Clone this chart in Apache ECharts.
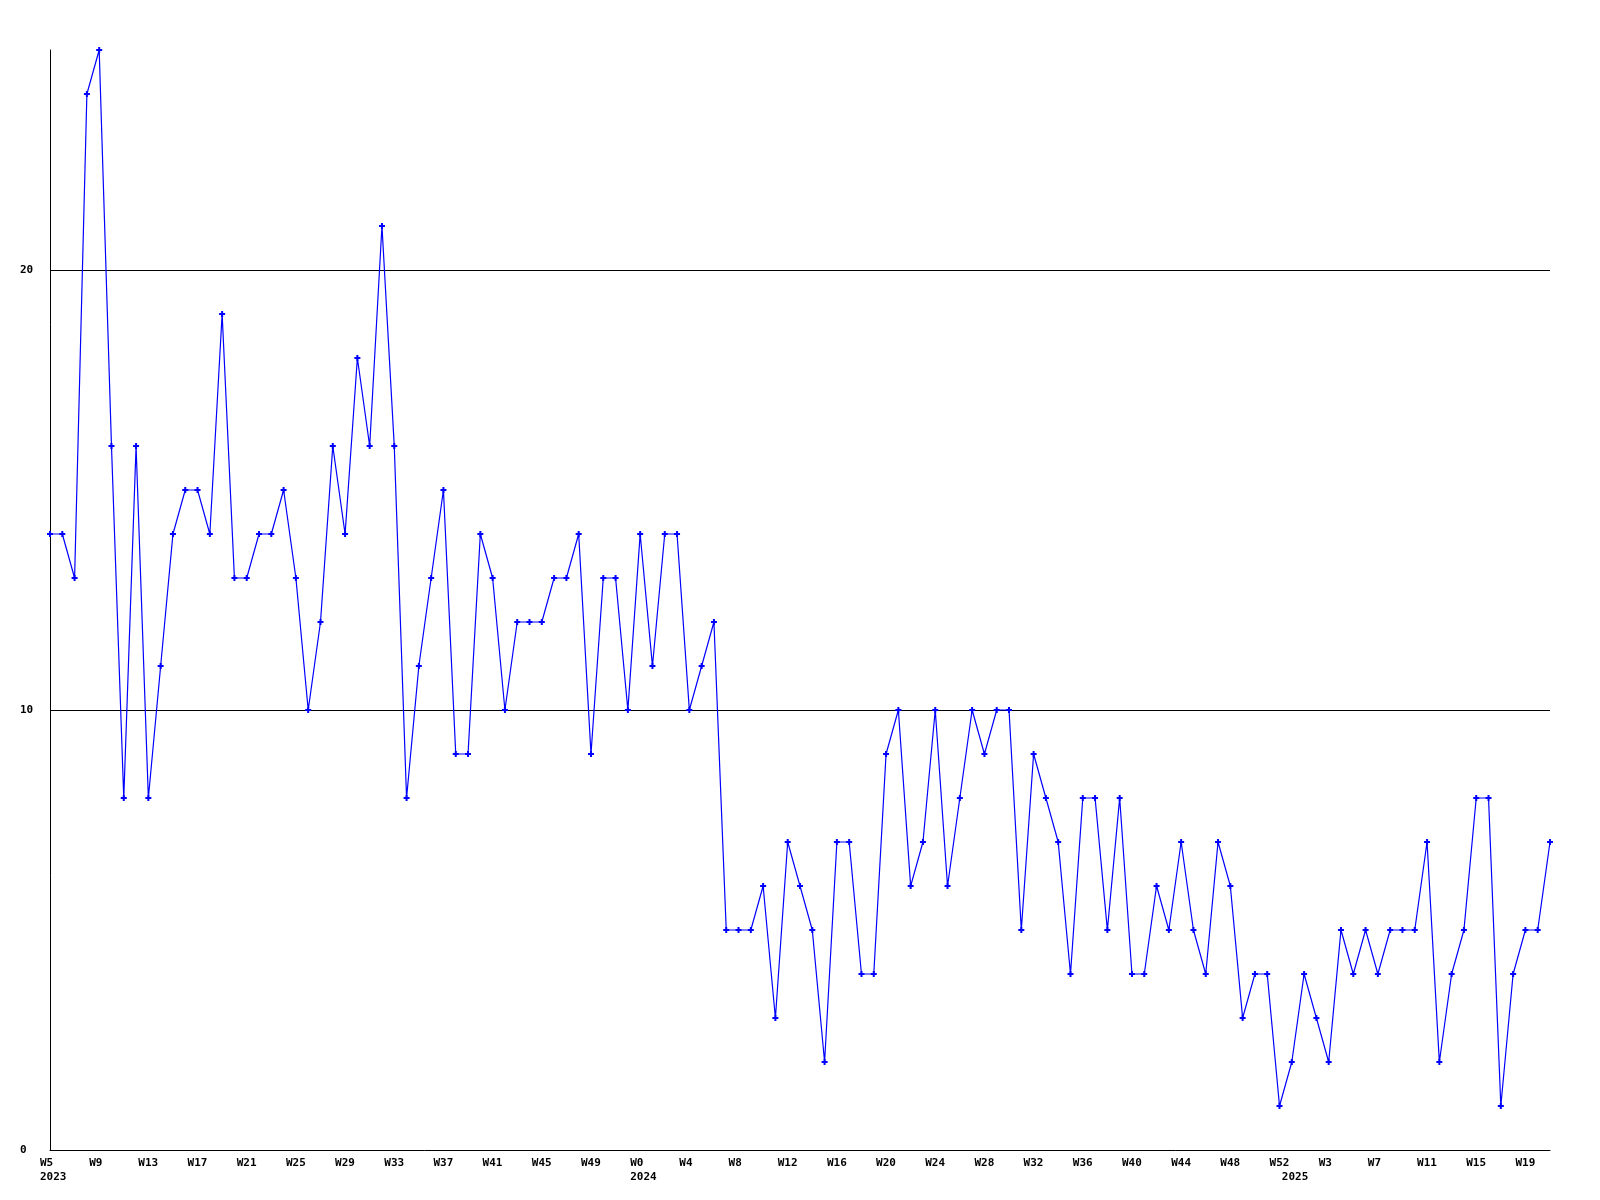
<!DOCTYPE html>
<html>
<head>
<meta charset="utf-8">
<script src="https://cdn.jsdelivr.net/npm/echarts@6/dist/echarts.min.js"></script>
<style>
html,body{margin:0;padding:0;background:#fff;}
#chart{width:1600px;height:1200px;}
</style>
</head>
<body>
<div id="chart"></div>
<script>
// Week categories (year-week)
const weeks2023 = [5,6,7,8,9,10,11,12,13,14,15,16,17,18,19,20,21,22,23,24,25,26,27,28,29,30,31,32,33,34,35,36,37,38,39,40,41,42,43,44,45,46,47,48,49,50,51,52];
const weeks2024 = [0,1,2,3,4,5,6,7,8,9,10,11,12,13,14,15,16,17,18,19,20,21,22,23,24,25,26,27,28,29,30,31,32,33,34,35,36,37,38,39,40,41,42,43,44,45,46,47,48,49,50,51,52];
const weeks2025 = [0,1,2,3,4,5,6,7,8,9,10,11,12,13,14,15,16,17,18,19,20,21];

// Series values
const values2023 = [14,14,13,24,25,16,8,16,8,11,14,15,15,14,19,13,13,14,14,15,13,10,12,16,14,18,16,21,16,8,11,13,15,9,9,14,13,10,12,12,12,13,13,14,9,13,13,10];
const values2024 = [14,11,14,14,10,11,12,5,5,5,6,3,7,6,5,2,7,7,4,4,9,10,6,7,10,6,8,10,9,10,10,5,9,8,7,4,8,8,5,8,4,4,6,5,7,5,4,7,6,3,4,4,1];
const values2025 = [2,4,3,2,5,4,5,4,5,5,5,7,2,4,5,8,8,1,4,5,5,7];

// Y tick labels
const yTicks = [0, 10, 20];

const categories = [];
weeks2023.forEach(w => categories.push('2023-W' + w));
weeks2024.forEach(w => categories.push('2024-W' + w));
weeks2025.forEach(w => categories.push('2025-W' + w));
const values = values2023.concat(values2024, values2025);

function isYearStart(i) {
  if (i === 0) return true;
  return categories[i].split('-W')[0] !== categories[i - 1].split('-W')[0];
}

const chart = echarts.init(document.getElementById('chart'), null, {renderer: 'canvas'});
const font = 'DejaVu Sans Mono';
chart.setOption({
  animation: false,
  backgroundColor: '#ffffff',
  grid: {left: 50, right: 50, top: 50, bottom: 50, containLabel: false},
  xAxis: {
    type: 'category',
    boundaryGap: false,
    data: categories,
    axisLine: {show: true, lineStyle: {color: '#000', width: 1}},
    axisTick: {show: false},
    splitLine: {show: false},
    axisLabel: {
      interval: function (i) { return i % 4 === 0 || isYearStart(i); },
      formatter: function (v, i) {
        const parts = v.split('-W');
        const wk = (i % 4 === 0) ? 'W' + parts[1] : '';
        return isYearStart(i) ? wk + '\n' + parts[0] : wk;
      },
      align: 'left',
      verticalAlign: 'top',
      padding: [0, 0, 0, -10],
      margin: 6,
      lineHeight: 14,
      fontFamily: font,
      fontWeight: 'bold',
      fontSize: 11,
      color: '#000'
    }
  },
  yAxis: {
    type: 'value',
    min: 0,
    max: 25,
    interval: 10,
    axisLine: {show: true, lineStyle: {color: '#000', width: 1}},
    axisTick: {show: false},
    splitLine: {show: true, showMinLine: false, showMaxLine: false, lineStyle: {color: '#000', width: 1}},
    axisLabel: {
      showMaxLabel: false,
      formatter: function (v) { return yTicks.indexOf(v) >= 0 ? String(v) : ''; },
      align: 'left',
      margin: 30,
      fontFamily: font,
      fontWeight: 'bold',
      fontSize: 11,
      color: '#000'
    }
  },
  series: [{
    type: 'line',
    data: values,
    symbol: 'path://M2,0H4V2H6V4H4V6H2V4H0V2H2Z',
    symbolSize: 6,
    showAllSymbol: true,
    lineStyle: {color: '#0000ff', width: 1.2},
    itemStyle: {color: '#0000ff', borderWidth: 0},
    emphasis: {disabled: true}
  }]
});
</script>
</body>
</html>
